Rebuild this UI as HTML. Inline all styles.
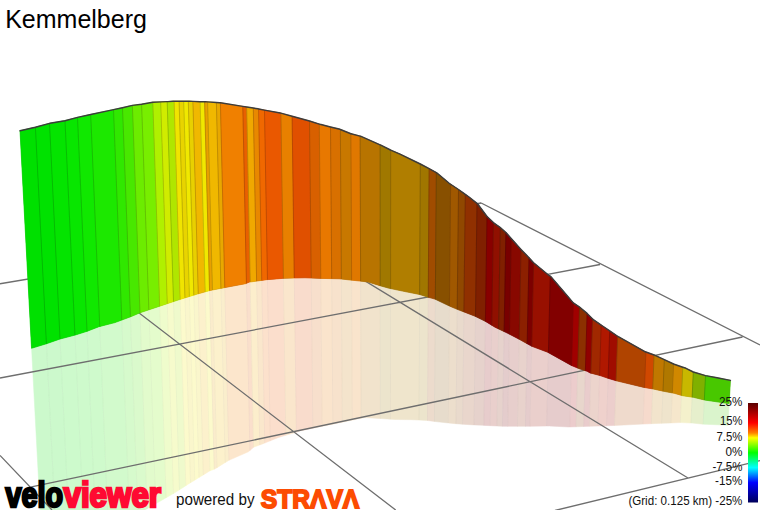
<!DOCTYPE html>
<html><head><meta charset="utf-8"><style>
html,body{margin:0;padding:0;background:#fff;width:760px;height:510px;overflow:hidden}
body{position:relative;font-family:"Liberation Sans",sans-serif}
.title{position:absolute;left:5.2px;top:5.4px;font-size:25px;color:#000;line-height:29px;white-space:nowrap}
</style></head><body>
<svg width="760" height="510" viewBox="0 0 760 510" style="position:absolute;left:0;top:0">
<g stroke-width="0.5"><polygon fill="#ccf9cc" stroke="#ccf9cc" points="31.56,348.29 46.3,343.8 46.43,343.76 59.46,600 44.93,600"/><polygon fill="#ccf9cc" stroke="#ccf9cc" points="46.43,343.76 60.04,339.02 72.77,600 59.46,600"/><polygon fill="#cdfacc" stroke="#cdfacc" points="60.04,339.02 60.1,339 74.98,335.08 87.3,600 72.77,600"/><polygon fill="#cefacc" stroke="#cefacc" points="74.98,335.08 75.3,335 87.05,331.31 99.06,600 87.3,600"/><polygon fill="#cffacc" stroke="#cffacc" points="87.05,331.31 87.1,331.3 98.9,326.7 99.76,326.48 111.31,596.62 110,600 99.06,600"/><polygon fill="#d2facc" stroke="#d2facc" points="99.76,326.48 115,322.6 121.8,320.06 130.72,546.42 111.31,596.62"/><polygon fill="#d6facc" stroke="#d6facc" points="121.8,320.06 130.46,316.83 138.45,526.43 130.72,546.42"/><polygon fill="#dafacc" stroke="#dafacc" points="130.46,316.83 130.8,316.7 140,312.8 147.17,508.64 144.8,510 138.45,526.43"/><polygon fill="#e2fbcc" stroke="#e2fbcc" points="140,312.8 140,312.8 148.86,309.83 155.7,503.74 147.17,508.64"/><polygon fill="#e4fccc" stroke="#e4fccc" points="148.86,309.83 159.67,306.21 166.12,497.76 159.6,501.5 155.7,503.74"/><polygon fill="#effccc" stroke="#effccc" points="159.67,306.21 159.7,306.2 167.26,303.68 173.43,493.56 166.12,497.76"/><polygon fill="#f6fbcc" stroke="#f6fbcc" points="167.26,303.68 173.51,301.6 179.46,489.78 174.4,493 173.43,493.56"/><polygon fill="#effacc" stroke="#effacc" points="173.51,301.6 179.5,299.6 180.16,299.4 185.85,485.7 179.46,489.78"/><polygon fill="#fcfacc" stroke="#fcfacc" points="180.16,299.4 184.97,297.9 190.49,482.77 189.3,483.5 185.85,485.7"/><polygon fill="#faf6cc" stroke="#faf6cc" points="184.97,297.9 189.4,296.53 194.76,480.15 190.49,482.77"/><polygon fill="#fcfacc" stroke="#fcfacc" points="189.4,296.53 193.83,295.16 199.03,477.53 194.76,480.15"/><polygon fill="#faf6cc" stroke="#faf6cc" points="193.83,295.16 196.6,294.3 198.26,293.83 203.3,474.91 199.03,477.53"/><polygon fill="#fcf1cc" stroke="#fcf1cc" points="198.26,293.83 205.19,291.86 209.99,470.81 203.3,474.91"/><polygon fill="#fcfacc" stroke="#fcfacc" points="205.19,291.86 209.54,290.63 214.21,469.25 210,470.8 209.99,470.81"/><polygon fill="#faeccc" stroke="#faeccc" points="209.54,290.63 210,290.5 212.44,290.02 217,467.69 214.9,469 214.21,469.25"/><polygon fill="#fcf1cc" stroke="#fcf1cc" points="212.44,290.02 220.94,288.34 225.2,462.58 217,467.69"/><polygon fill="#faeecc" stroke="#faeecc" points="220.94,288.34 223.2,287.9 224.81,287.6 228.93,460.3 228.7,460.4 225.2,462.58"/><polygon fill="#fce6cc" stroke="#fce6cc" points="224.81,287.6 245.5,283.7 246.45,283.32 249.9,450.5 248.4,451.8 228.93,460.3"/><polygon fill="#fadfcc" stroke="#fadfcc" points="246.45,283.32 249.5,282.1 250.21,282 253.53,447.35 249.9,450.5"/><polygon fill="#fceecc" stroke="#fceecc" points="250.21,282 256.61,281.1 259.74,444.96 253.7,447.2 253.53,447.35"/><polygon fill="#fae7cc" stroke="#fae7cc" points="256.61,281.1 261.75,280.38 264.73,443.08 264.2,443.3 259.74,444.96"/><polygon fill="#fce1cc" stroke="#fce1cc" points="261.75,280.38 266.6,279.7 267.46,279.63 270.28,440.82 264.73,443.08"/><polygon fill="#fbdecc" stroke="#fbdecc" points="267.46,279.63 282.4,278.4 283.4,278.37 285.77,435.34 278.7,437.4 270.28,440.82"/><polygon fill="#fae6cc" stroke="#fae6cc" points="283.4,278.37 294.2,278 294.28,278 296.36,432.16 294.5,432.8 285.77,435.34"/><polygon fill="#f9dccc" stroke="#f9dccc" points="294.28,278 305,277.8 311.22,278.04 312.87,428.25 300,430.9 296.36,432.16"/><polygon fill="#f7dfcc" stroke="#f7dfcc" points="311.22,278.04 320.78,278.4 322.19,426.32 312.87,428.25"/><polygon fill="#fae4cc" stroke="#fae4cc" points="320.78,278.4 320.8,278.4 331.7,278.64 332.86,424.13 322.19,426.32"/><polygon fill="#f7e2cc" stroke="#f7e2cc" points="331.7,278.64 339.2,278.8 341.37,279.04 342.29,422.18 332.86,424.13"/><polygon fill="#f4e4cc" stroke="#f4e4cc" points="341.37,279.04 351.62,280.15 352.32,420.11 342.29,422.18"/><polygon fill="#f9e4cc" stroke="#f9e4cc" points="351.62,280.15 360.3,281.1 360.62,281.14 361.12,418.3 352.32,420.11"/><polygon fill="#f1e3cc" stroke="#f1e3cc" points="360.62,281.14 368.2,282 380,285.7 380.2,285.76 380.3,418.49 379,418.4 364.5,417.6 361.12,418.3"/><polygon fill="#ece4cc" stroke="#ece4cc" points="380.2,285.76 389.2,288.3 390.59,288.59 390.48,419.19 380.3,418.49"/><polygon fill="#efe5cc" stroke="#efe5cc" points="390.59,288.59 405,291.6 419.63,294.49 418.98,420.06 410.8,419.7 395,419.5 390.48,419.19"/><polygon fill="#ece4cc" stroke="#ece4cc" points="419.63,294.49 419.7,294.5 427.6,297.1 428.27,297.28 427.47,420.51 426.6,420.4 418.98,420.06"/><polygon fill="#ecdbcc" stroke="#ecdbcc" points="428.27,297.28 434.9,299.1 435.35,299.31 434.43,421.42 427.47,420.51"/><polygon fill="#e7dccc" stroke="#e7dccc" points="435.35,299.31 449.43,306.03 448.31,422.97 439.7,422.1 434.43,421.42"/><polygon fill="#ecdecc" stroke="#ecdecc" points="449.43,306.03 450,306.3 457.21,309.31 455.97,423.73 455.5,423.7 448.31,422.97"/><polygon fill="#e9dacc" stroke="#e9dacc" points="457.21,309.31 457.9,309.6 463.91,311.92 462.59,424.19 455.97,423.73"/><polygon fill="#e9d6cc" stroke="#e9d6cc" points="463.91,311.92 475,316.2 475.47,316.43 474,424.89 470,424.7 462.59,424.19"/><polygon fill="#e6d2cc" stroke="#e6d2cc" points="475.47,316.43 485.42,321.36 483.86,425.37 474,424.89"/><polygon fill="#e7cccc" stroke="#e7cccc" points="485.42,321.36 485.5,321.4 491.76,325.22 490.15,425.67 484.5,425.4 483.86,425.37"/><polygon fill="#e9cfcc" stroke="#e9cfcc" points="491.76,325.22 495,327.2 498.57,328.91 496.92,426 490.15,425.67"/><polygon fill="#e6d2cc" stroke="#e6d2cc" points="498.57,328.91 504.13,331.56 502.44,426.26 496.92,426"/><polygon fill="#e4cccc" stroke="#e4cccc" points="504.13,331.56 508.2,333.5 509.41,334.14 507.69,426.3 503.2,426.3 502.44,426.26"/><polygon fill="#e7cecc" stroke="#e7cecc" points="509.41,334.14 518.7,339 519.19,339.27 517.44,426.3 507.69,426.3"/><polygon fill="#e8d2cc" stroke="#e8d2cc" points="519.19,339.27 527.16,343.71 525.39,426.3 517.44,426.3"/><polygon fill="#e5cccc" stroke="#e5cccc" points="527.16,343.71 531.76,346.28 529.99,426.29 529.5,426.3 525.39,426.3"/><polygon fill="#eacfcc" stroke="#eacfcc" points="531.76,346.28 531.8,346.3 547.6,352.2 548.42,352.65 546.61,426.04 529.99,426.29"/><polygon fill="#e6cccc" stroke="#e6cccc" points="548.42,352.65 571.3,365.4 571.54,365.5 569.81,426.97 569,427 549.2,426 546.61,426.04"/><polygon fill="#eccccc" stroke="#eccccc" points="571.54,365.5 577.72,368.08 576.02,426.77 569.81,426.97"/><polygon fill="#e8d6cc" stroke="#e8d6cc" points="577.72,368.08 579.2,368.7 585.37,370.73 583.68,426.51 576.02,426.77"/><polygon fill="#e9cccc" stroke="#e9cccc" points="585.37,370.73 587.1,371.3 590,372.9 590.9,373.14 589.25,426.33 583.68,426.51"/><polygon fill="#ecd4cc" stroke="#ecd4cc" points="590.9,373.14 599.57,375.41 597.93,426.04 590,426.3 589.25,426.33"/><polygon fill="#efd1cc" stroke="#efd1cc" points="599.57,375.41 599.9,375.5 608.11,378.3 606.51,425.75 597.93,426.04"/><polygon fill="#eccecc" stroke="#eccecc" points="608.11,378.3 608.4,378.4 616.05,380.72 614.49,425.48 614,425.5 606.51,425.75"/><polygon fill="#efdacc" stroke="#efdacc" points="616.05,380.72 616.3,380.8 643.9,387.4 644.51,387.5 643.07,424.08 614.49,425.48"/><polygon fill="#f6dacc" stroke="#f6dacc" points="644.51,387.5 652.73,388.92 651.32,423.68 650.8,423.7 643.07,424.08"/><polygon fill="#f2e4cc" stroke="#f2e4cc" points="652.73,388.92 653.2,389 662.98,391.14 661.62,423.32 651.32,423.68"/><polygon fill="#efe4cc" stroke="#efe4cc" points="662.98,391.14 663.7,391.3 672.34,392.95 671.04,422.98 670.5,423 661.62,423.32"/><polygon fill="#f6e7cc" stroke="#f6e7cc" points="672.34,392.95 674.2,393.3 681.51,395.39 680.28,422.61 671.04,422.98"/><polygon fill="#f4f1cc" stroke="#f4f1cc" points="681.51,395.39 682.75,395.75 692.13,397.13 690.93,423.05 680.6,422.6 680.28,422.61"/><polygon fill="#e6efcc" stroke="#e6efcc" points="692.13,397.13 693.3,397.3 704.32,399.98 703.15,424.13 692.2,423.1 690.93,423.05"/><polygon fill="#daf4cc" stroke="#daf4cc" points="704.32,399.98 704.4,400 728.8,403.6 729.19,403.63 728.06,425.27 703.9,424.2 703.15,424.13"/></g>
<path d="M46.43 343.76L59.46 600 M60.04 339.02L72.77 600 M74.98 335.08L87.3 600 M87.05 331.31L99.06 600 M99.76 326.48L111.31 596.62 M121.8 320.06L130.72 546.42 M130.46 316.83L138.45 526.43 M140 312.8L147.17 508.64 M148.86 309.83L155.7 503.74 M159.67 306.21L166.12 497.76 M167.26 303.68L173.43 493.56 M173.51 301.6L179.46 489.78 M180.16 299.4L185.85 485.7 M184.97 297.9L190.49 482.77 M189.4 296.53L194.76 480.15 M193.83 295.16L199.03 477.53 M198.26 293.83L203.3 474.91 M205.19 291.86L209.99 470.81 M209.54 290.63L214.21 469.25 M212.44 290.02L217 467.69 M220.94 288.34L225.2 462.58 M224.81 287.6L228.93 460.3 M246.45 283.32L249.9 450.5 M250.21 282L253.53 447.35 M256.61 281.1L259.74 444.96 M261.75 280.38L264.73 443.08 M267.46 279.63L270.28 440.82 M283.4 278.37L285.77 435.34 M294.28 278L296.36 432.16 M311.22 278.04L312.87 428.25 M320.78 278.4L322.19 426.32 M331.7 278.64L332.86 424.13 M341.37 279.04L342.29 422.18 M351.62 280.15L352.32 420.11 M360.62 281.14L361.12 418.3 M380.2 285.76L380.3 418.49 M390.59 288.59L390.48 419.19 M419.63 294.49L418.98 420.06 M428.27 297.28L427.47 420.51 M435.35 299.31L434.43 421.42 M449.43 306.03L448.31 422.97 M457.21 309.31L455.97 423.73 M463.91 311.92L462.59 424.19 M475.47 316.43L474 424.89 M485.42 321.36L483.86 425.37 M491.76 325.22L490.15 425.67 M498.57 328.91L496.92 426 M504.13 331.56L502.44 426.26 M509.41 334.14L507.69 426.3 M519.19 339.27L517.44 426.3 M527.16 343.71L525.39 426.3 M531.76 346.28L529.99 426.29 M548.42 352.65L546.61 426.04 M571.54 365.5L569.81 426.97 M577.72 368.08L576.02 426.77 M585.37 370.73L583.68 426.51 M590.9 373.14L589.25 426.33 M599.57 375.41L597.93 426.04 M608.11 378.3L606.51 425.75 M616.05 380.72L614.49 425.48 M644.51 387.5L643.07 424.08 M652.73 388.92L651.32 423.68 M662.98 391.14L661.62 423.32 M672.34 392.95L671.04 422.98 M681.51 395.39L680.28 422.61 M692.13 397.13L690.93 423.05 M704.32 399.98L703.15 424.13" stroke="#000" stroke-opacity="0.035" stroke-width="0.9" fill="none"/>
<path d="M0 283.75L481.2 203 M477.5 203.8L481.2 203 M481.2 203L760 345 M0 378L600 264.5 M30.3 487.2L742.5 337 M555 510.5L760 460.6 M0 455.4L52 510 M82.8 269.8L395.7 510 M289.8 235L688 478" stroke="#6e6e6e" stroke-width="1.3" fill="none"/>
<polygon fill="#606060" points="20,130.8 35.4,127.2 49.9,123.3 65,120.7 77.5,117.4 90.7,114.5 110,110.4 122.5,107.7 132.4,105.4 141.6,104.2 152.8,102.2 167.9,101.6 173.2,101.2 189,101.2 200.8,101.8 205.3,101.7 219.7,102.7 242.8,106.4 257.9,108.8 264.5,110.1 280.3,113 292.1,116.3 309.5,121 320,124.3 330.5,127 340,129.3 351,133.8 360.5,136.2 380.3,144.9 390.5,150 400,154.1 420.3,164 429.5,168.8 436.7,172.8 449.2,183.3 458.5,189.5 469,197 477.5,203.8 487,216.5 494.4,223.4 500,227.3 505.9,232.5 511.2,238.4 521,249.6 528.3,256.9 533.6,262.8 548.7,275.3 550.9,276.6 562.1,289.7 573.3,302.9 579.2,306.8 587.1,313.4 593.3,319.6 601.8,325.5 610.4,331.4 618.3,336.7 645.3,351.8 654.5,355.1 664.3,359.7 674.2,364.3 686,368.3 693.3,372 705.5,375.6 717,377.75 730.4,380.4 729.19,403.63 728.8,403.6 704.4,400 693.3,397.3 682.75,395.75 674.2,393.3 663.7,391.3 653.2,389 643.9,387.4 616.3,380.8 608.4,378.4 599.9,375.5 590,372.9 587.1,371.3 579.2,368.7 571.3,365.4 547.6,352.2 531.8,346.3 518.7,339 508.2,333.5 495,327.2 485.5,321.4 475,316.2 457.9,309.6 450,306.3 434.9,299.1 427.6,297.1 419.7,294.5 405,291.6 389.2,288.3 380,285.7 368.2,282 360.3,281.1 339.2,278.8 320.8,278.4 305,277.8 294.2,278 282.4,278.4 266.6,279.7 249.5,282.1 245.5,283.7 223.2,287.9 210,290.5 196.6,294.3 179.5,299.6 159.7,306.2 140,312.8 130.8,316.7 115,322.6 98.9,326.7 87.1,331.3 75.3,335 60.1,339 46.3,343.8 31.56,348.29"/>
<g stroke-width="0.7"><polygon fill="#00e000" stroke="#00e000" points="20,130.8 35.4,127.2 35.41,127.2 46.43,343.76 46.3,343.8 31.56,348.29"/><polygon fill="#00e200" stroke="#00e200" points="35.41,127.2 49.52,123.4 60.04,339.02 46.43,343.76"/><polygon fill="#04e400" stroke="#04e400" points="49.52,123.4 49.9,123.3 65,120.7 65.01,120.7 74.98,335.08 60.1,339 60.04,339.02"/><polygon fill="#08e600" stroke="#08e600" points="65.01,120.7 77.5,117.4 87.05,331.31 75.3,335 74.98,335.08"/><polygon fill="#10e800" stroke="#10e800" points="77.5,117.4 77.5,117.4 90.7,114.5 99.76,326.48 98.9,326.7 87.1,331.3 87.05,331.31"/><polygon fill="#1ce800" stroke="#1ce800" points="90.7,114.5 110,110.4 113.51,109.64 121.8,320.06 115,322.6 99.76,326.48"/><polygon fill="#30e800" stroke="#30e800" points="113.51,109.64 122.5,107.7 130.46,316.83 121.8,320.06"/><polygon fill="#48e800" stroke="#48e800" points="122.5,107.7 132.4,105.4 140,312.8 130.8,316.7 130.46,316.83"/><polygon fill="#6cec00" stroke="#6cec00" points="132.4,105.4 141.6,104.2 148.86,309.83 140,312.8 140,312.8"/><polygon fill="#78ee00" stroke="#78ee00" points="141.6,104.2 152.8,102.2 159.67,306.21 148.86,309.83"/><polygon fill="#b0f000" stroke="#b0f000" points="152.8,102.2 160.7,101.89 167.26,303.68 159.7,306.2 159.67,306.21"/><polygon fill="#d0ec00" stroke="#d0ec00" points="160.7,101.89 167.2,101.63 173.51,301.6 167.26,303.68"/><polygon fill="#b0e600" stroke="#b0e600" points="167.2,101.63 167.9,101.6 173.2,101.2 174.1,101.2 180.16,299.4 179.5,299.6 173.51,301.6"/><polygon fill="#f0e400" stroke="#f0e400" points="174.1,101.2 179.1,101.2 184.97,297.9 180.16,299.4"/><polygon fill="#e8d400" stroke="#e8d400" points="179.1,101.2 183.7,101.2 189.4,296.53 184.97,297.9"/><polygon fill="#f0e800" stroke="#f0e800" points="183.7,101.2 188.3,101.2 193.83,295.16 189.4,296.53"/><polygon fill="#e8d000" stroke="#e8d000" points="188.3,101.2 189,101.2 192.9,101.4 198.26,293.83 196.6,294.3 193.83,295.16"/><polygon fill="#f0b800" stroke="#f0b800" points="192.9,101.4 200.1,101.76 205.19,291.86 198.26,293.83"/><polygon fill="#f0e800" stroke="#f0e800" points="200.1,101.76 200.8,101.8 204.6,101.72 209.54,290.63 205.19,291.86"/><polygon fill="#e8a000" stroke="#e8a000" points="204.6,101.72 205.3,101.7 207.6,101.86 212.44,290.02 210,290.5 209.54,290.63"/><polygon fill="#f0b800" stroke="#f0b800" points="207.6,101.86 216.4,102.47 220.94,288.34 212.44,290.02"/><polygon fill="#e8a800" stroke="#e8a800" points="216.4,102.47 219.7,102.7 220.4,102.81 224.81,287.6 223.2,287.9 220.94,288.34"/><polygon fill="#f08000" stroke="#f08000" points="220.4,102.81 242.8,106.4 246.45,283.32 245.5,283.7 224.81,287.6"/><polygon fill="#e86000" stroke="#e86000" points="242.8,106.4 246.7,107.02 250.21,282 249.5,282.1 246.45,283.32"/><polygon fill="#f0a800" stroke="#f0a800" points="246.7,107.02 253.3,108.07 256.61,281.1 250.21,282"/><polygon fill="#e88800" stroke="#e88800" points="253.3,108.07 257.9,108.8 258.6,108.94 261.75,280.38 256.61,281.1"/><polygon fill="#f06800" stroke="#f06800" points="258.6,108.94 264.5,110.1 267.46,279.63 266.6,279.7 261.75,280.38"/><polygon fill="#ea5800" stroke="#ea5800" points="264.5,110.1 280.3,113 280.9,113.17 283.4,278.37 282.4,278.4 267.46,279.63"/><polygon fill="#e88000" stroke="#e88000" points="280.9,113.17 292.1,116.3 294.28,278 294.2,278 283.4,278.37"/><polygon fill="#e05000" stroke="#e05000" points="292.1,116.3 309.5,121 311.22,278.04 305,277.8 294.28,278"/><polygon fill="#d86000" stroke="#d86000" points="309.5,121 319.3,124.08 320.78,278.4 311.22,278.04"/><polygon fill="#e87800" stroke="#e87800" points="319.3,124.08 320,124.3 330.5,127 331.7,278.64 320.8,278.4 320.78,278.4"/><polygon fill="#d87000" stroke="#d87000" points="330.5,127 340,129.3 340.39,129.46 341.37,279.04 339.2,278.8 331.7,278.64"/><polygon fill="#c87800" stroke="#c87800" points="340.39,129.46 350.9,133.76 351.62,280.15 341.37,279.04"/><polygon fill="#e07800" stroke="#e07800" points="350.9,133.76 351,133.8 360.1,136.1 360.62,281.14 360.3,281.1 351.62,280.15"/><polygon fill="#b87400" stroke="#b87400" points="360.1,136.1 360.5,136.2 380.1,144.81 380.2,285.76 380,285.7 368.2,282 360.62,281.14"/><polygon fill="#a07800" stroke="#a07800" points="380.1,144.81 380.3,144.9 390.5,150 390.7,150.09 390.59,288.59 389.2,288.3 380.2,285.76"/><polygon fill="#b07e00" stroke="#b07e00" points="390.7,150.09 400,154.1 420.3,164 419.63,294.49 405,291.6 390.59,288.59"/><polygon fill="#a07600" stroke="#a07600" points="420.3,164 429.1,168.59 428.27,297.28 427.6,297.1 419.7,294.5 419.63,294.49"/><polygon fill="#a04c00" stroke="#a04c00" points="429.1,168.59 429.5,168.8 436.3,172.58 435.35,299.31 434.9,299.1 428.27,297.28"/><polygon fill="#885000" stroke="#885000" points="436.3,172.58 436.7,172.8 449.2,183.3 450.61,184.24 449.43,306.03 435.35,299.31"/><polygon fill="#a05800" stroke="#a05800" points="450.61,184.24 458.5,189.5 457.21,309.31 450,306.3 449.43,306.03"/><polygon fill="#904800" stroke="#904800" points="458.5,189.5 465.3,194.36 463.91,311.92 457.9,309.6 457.21,309.31"/><polygon fill="#903000" stroke="#903000" points="465.3,194.36 469,197 477,203.4 475.47,316.43 475,316.2 463.91,311.92"/><polygon fill="#802000" stroke="#802000" points="477,203.4 477.5,203.8 487,216.5 485.42,321.36 475.47,316.43"/><polygon fill="#880000" stroke="#880000" points="487,216.5 493.4,222.47 491.76,325.22 485.5,321.4 485.42,321.36"/><polygon fill="#901000" stroke="#901000" points="493.4,222.47 494.4,223.4 500,227.3 500.3,227.56 498.57,328.91 495,327.2 491.76,325.22"/><polygon fill="#802000" stroke="#802000" points="500.3,227.56 505.9,232.5 504.13,331.56 498.57,328.91"/><polygon fill="#780000" stroke="#780000" points="505.9,232.5 511.2,238.4 509.41,334.14 508.2,333.5 504.13,331.56"/><polygon fill="#880800" stroke="#880800" points="511.2,238.4 521,249.6 519.19,339.27 518.7,339 509.41,334.14"/><polygon fill="#8c2000" stroke="#8c2000" points="521,249.6 528.3,256.9 529,257.68 527.16,343.71 519.19,339.27"/><polygon fill="#7c0000" stroke="#7c0000" points="529,257.68 533.6,262.8 531.76,346.28 527.16,343.71"/><polygon fill="#981000" stroke="#981000" points="533.6,262.8 548.7,275.3 550.29,276.24 548.42,352.65 547.6,352.2 531.8,346.3 531.76,346.28"/><polygon fill="#820000" stroke="#820000" points="550.29,276.24 550.9,276.6 562.1,289.7 573.3,302.9 571.54,365.5 571.3,365.4 548.42,352.65"/><polygon fill="#a00000" stroke="#a00000" points="573.3,302.9 579.2,306.8 579.5,307.05 577.72,368.08 571.54,365.5"/><polygon fill="#8c3000" stroke="#8c3000" points="579.5,307.05 587.1,313.4 585.37,370.73 579.2,368.7 577.72,368.08"/><polygon fill="#900000" stroke="#900000" points="587.1,313.4 592.59,318.89 590.9,373.14 590,372.9 587.1,371.3 585.37,370.73"/><polygon fill="#a02800" stroke="#a02800" points="592.59,318.89 593.3,319.6 601.2,325.08 599.57,375.41 590.9,373.14"/><polygon fill="#b01800" stroke="#b01800" points="601.2,325.08 601.8,325.5 609.7,330.92 608.11,378.3 599.9,375.5 599.57,375.41"/><polygon fill="#a00c00" stroke="#a00c00" points="609.7,330.92 610.4,331.4 617.6,336.23 616.05,380.72 608.4,378.4 608.11,378.3"/><polygon fill="#b04400" stroke="#b04400" points="617.6,336.23 618.3,336.7 645.3,351.8 645.9,352.02 644.51,387.5 643.9,387.4 616.3,380.8 616.05,380.72"/><polygon fill="#d04800" stroke="#d04800" points="645.9,352.02 654.1,354.96 652.73,388.92 644.51,387.5"/><polygon fill="#c07800" stroke="#c07800" points="654.1,354.96 654.5,355.1 664.3,359.7 662.98,391.14 653.2,389 652.73,388.92"/><polygon fill="#b07800" stroke="#b07800" points="664.3,359.7 673.6,364.02 672.34,392.95 663.7,391.3 662.98,391.14"/><polygon fill="#d08800" stroke="#d08800" points="673.6,364.02 674.2,364.3 682.77,367.21 681.51,395.39 674.2,393.3 672.34,392.95"/><polygon fill="#c8b800" stroke="#c8b800" points="682.77,367.21 686,368.3 693.3,372 692.13,397.13 682.75,395.75 681.51,395.39"/><polygon fill="#80b000" stroke="#80b000" points="693.3,372 705.5,375.6 704.32,399.98 693.3,397.3 692.13,397.13"/><polygon fill="#48c800" stroke="#48c800" points="705.5,375.6 717,377.75 730.4,380.4 729.19,403.63 728.8,403.6 704.4,400 704.32,399.98"/></g>
<path d="M35.41 127.2L46.43 343.76 M49.52 123.4L60.04 339.02 M65.01 120.7L74.98 335.08 M77.5 117.4L87.05 331.31 M90.7 114.5L99.76 326.48 M113.51 109.64L121.8 320.06 M122.5 107.7L130.46 316.83 M132.4 105.4L140 312.8 M141.6 104.2L148.86 309.83 M152.8 102.2L159.67 306.21 M160.7 101.89L167.26 303.68 M167.2 101.63L173.51 301.6 M174.1 101.2L180.16 299.4 M179.1 101.2L184.97 297.9 M183.7 101.2L189.4 296.53 M188.3 101.2L193.83 295.16 M192.9 101.4L198.26 293.83 M200.1 101.76L205.19 291.86 M204.6 101.72L209.54 290.63 M207.6 101.86L212.44 290.02 M216.4 102.47L220.94 288.34 M220.4 102.81L224.81 287.6 M242.8 106.4L246.45 283.32 M246.7 107.02L250.21 282 M253.3 108.07L256.61 281.1 M258.6 108.94L261.75 280.38 M264.5 110.1L267.46 279.63 M280.9 113.17L283.4 278.37 M292.1 116.3L294.28 278 M309.5 121L311.22 278.04 M319.3 124.08L320.78 278.4 M330.5 127L331.7 278.64 M340.39 129.46L341.37 279.04 M350.9 133.76L351.62 280.15 M360.1 136.1L360.62 281.14 M380.1 144.81L380.2 285.76 M390.7 150.09L390.59 288.59 M420.3 164L419.63 294.49 M429.1 168.59L428.27 297.28 M436.3 172.58L435.35 299.31 M450.61 184.24L449.43 306.03 M458.5 189.5L457.21 309.31 M465.3 194.36L463.91 311.92 M477 203.4L475.47 316.43 M487 216.5L485.42 321.36 M493.4 222.47L491.76 325.22 M500.3 227.56L498.57 328.91 M505.9 232.5L504.13 331.56 M511.2 238.4L509.41 334.14 M521 249.6L519.19 339.27 M529 257.68L527.16 343.71 M533.6 262.8L531.76 346.28 M550.29 276.24L548.42 352.65 M573.3 302.9L571.54 365.5 M579.5 307.05L577.72 368.08 M587.1 313.4L585.37 370.73 M592.59 318.89L590.9 373.14 M601.2 325.08L599.57 375.41 M609.7 330.92L608.11 378.3 M617.6 336.23L616.05 380.72 M645.9 352.02L644.51 387.5 M654.1 354.96L652.73 388.92 M664.3 359.7L662.98 391.14 M673.6 364.02L672.34 392.95 M682.77 367.21L681.51 395.39 M693.3 372L692.13 397.13 M705.5 375.6L704.32 399.98" stroke="#000" stroke-opacity="0.16" stroke-width="1" fill="none"/>
<polyline points="20,130.8 35.4,127.2 35.41,127.2 49.52,123.4 49.9,123.3 65,120.7 65.01,120.7 77.5,117.4 77.5,117.4 90.7,114.5 110,110.4 113.51,109.64 122.5,107.7 132.4,105.4 141.6,104.2 152.8,102.2 160.7,101.89 167.2,101.63 167.9,101.6 173.2,101.2 174.1,101.2 179.1,101.2 183.7,101.2 188.3,101.2 189,101.2 192.9,101.4 200.1,101.76 200.8,101.8 204.6,101.72 205.3,101.7 207.6,101.86 216.4,102.47 219.7,102.7 220.4,102.81 242.8,106.4 246.7,107.02 253.3,108.07 257.9,108.8 258.6,108.94 264.5,110.1 280.3,113 280.9,113.17 292.1,116.3 309.5,121 319.3,124.08 320,124.3 330.5,127 340,129.3 340.39,129.46 350.9,133.76 351,133.8 360.1,136.1 360.5,136.2 380.1,144.81 380.3,144.9 390.5,150 390.7,150.09 400,154.1 420.3,164 429.1,168.59 429.5,168.8 436.3,172.58 436.7,172.8 449.2,183.3 450.61,184.24 458.5,189.5 465.3,194.36 469,197 477,203.4 477.5,203.8 487,216.5 493.4,222.47 494.4,223.4 500,227.3 500.3,227.56 505.9,232.5 511.2,238.4 521,249.6 528.3,256.9 529,257.68 533.6,262.8 548.7,275.3 550.29,276.24 550.9,276.6 562.1,289.7 573.3,302.9 579.2,306.8 579.5,307.05 587.1,313.4 592.59,318.89 593.3,319.6 601.2,325.08 601.8,325.5 609.7,330.92 610.4,331.4 617.6,336.23 618.3,336.7 645.3,351.8 645.9,352.02 654.1,354.96 654.5,355.1 664.3,359.7 673.6,364.02 674.2,364.3 682.77,367.21 686,368.3 693.3,372 705.5,375.6 717,377.75 730.4,380.4" stroke="#3c3c3c" stroke-width="1.45" fill="none" stroke-linejoin="round" stroke-linecap="round"/>
<defs><linearGradient id="cb" x1="0" y1="0" x2="0" y2="1"><stop offset="0" stop-color="#5a0000"/><stop offset="0.2" stop-color="#ff0000"/><stop offset="0.3" stop-color="#ff8000"/><stop offset="0.35" stop-color="#ffff00"/><stop offset="0.5" stop-color="#00ff00"/><stop offset="0.65" stop-color="#00ffff"/><stop offset="0.8" stop-color="#0000ff"/><stop offset="1" stop-color="#00005a"/></linearGradient></defs>
<rect x="748" y="403" width="10" height="99.5" fill="url(#cb)"/>
<text x="719.1" y="405.8" font-family="Liberation Sans" font-size="12.5" fill="#111" textLength="23.3" lengthAdjust="spacingAndGlyphs">25%</text>
<text x="720" y="425.3" font-family="Liberation Sans" font-size="12.5" fill="#111" textLength="22.4" lengthAdjust="spacingAndGlyphs">15%</text>
<text x="716.5" y="440.6" font-family="Liberation Sans" font-size="12.5" fill="#111" textLength="25.9" lengthAdjust="spacingAndGlyphs">7.5%</text>
<text x="725.4" y="455.9" font-family="Liberation Sans" font-size="12.5" fill="#111" textLength="17" lengthAdjust="spacingAndGlyphs">0%</text>
<text x="712.5" y="470.5" font-family="Liberation Sans" font-size="12.5" fill="#111" textLength="29.9" lengthAdjust="spacingAndGlyphs">-7.5%</text>
<text x="715.1" y="485.3" font-family="Liberation Sans" font-size="12.5" fill="#111" textLength="27.3" lengthAdjust="spacingAndGlyphs">-15%</text>
<text x="628.4" y="505.3" font-family="Liberation Sans" font-size="12.5" fill="#111" textLength="114" lengthAdjust="spacingAndGlyphs">(Grid: 0.125 km) -25%</text>
</svg>
<div class="title">Kemmelberg</div>
<svg width="760" height="510" style="position:absolute;left:0;top:0">
<g transform="translate(0,507) scale(1,1.17)"><text x="5.5" y="0" font-family="Liberation Sans" font-weight="bold" font-size="30" stroke-width="2.2" fill="#000" stroke="#000" textLength="57.5" lengthAdjust="spacingAndGlyphs">velo</text>
<text x="63.5" y="0" font-family="Liberation Sans" font-weight="bold" font-size="30" stroke-width="2.2" fill="#ff0a32" stroke="#ff0a32" textLength="97.5" lengthAdjust="spacingAndGlyphs">viewer</text></g>
<text x="176" y="504.6" font-family="Liberation Sans" font-size="16" fill="#111" textLength="78.5" lengthAdjust="spacingAndGlyphs">powered by</text>
<text x="260.8" y="507.5" font-family="Liberation Sans" font-weight="bold" font-size="26" fill="#fc4c02" stroke="#fc4c02" stroke-width="1.8" textLength="98.5" lengthAdjust="spacingAndGlyphs">STR&#923;V&#923;</text>
</svg>
</body></html>
